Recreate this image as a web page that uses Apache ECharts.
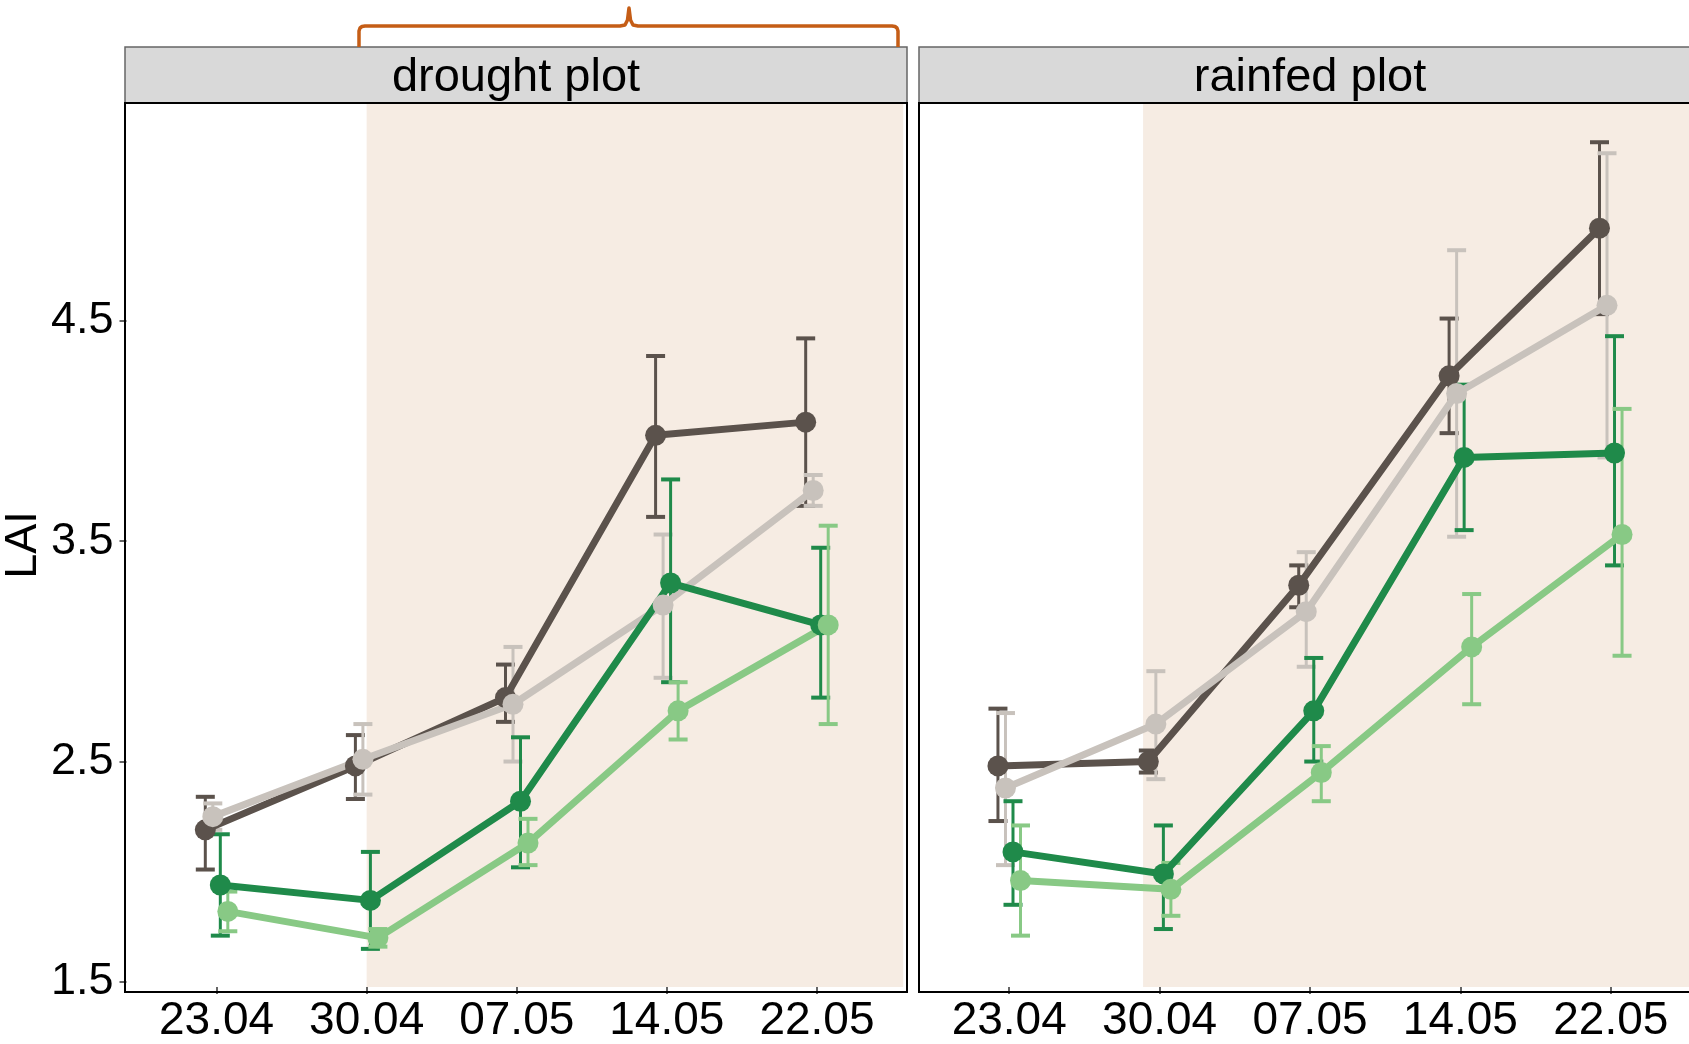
<!DOCTYPE html>
<html>
<head>
<meta charset="utf-8">
<title>LAI – drought vs rainfed plot</title>
<script src="https://cdn.jsdelivr.net/npm/echarts@6/dist/echarts.min.js"></script>
<style>
  html, body { margin: 0; padding: 0; background: #fff; }
  #chart { width: 1689px; height: 1044px; }
</style>
</head>
<body>
<div id="chart"></div>
<script>
// Sampling dates (discrete x positions 1..5)
const dates = ['23.04', '30.04', '07.05', '14.05', '22.05'];
const yTicks = [1.5, 2.5, 3.5, 4.5];
const panelTitles = ['drought plot', 'rainfed plot'];

// Drought plot: means and error-bar limits per genotype
const droughtG1Mean = [2.19, 2.48, 2.79, 3.98, 4.04];
const droughtG1Low  = [2.01, 2.33, 2.68, 3.61, 3.66];
const droughtG1High = [2.34, 2.62, 2.94, 4.34, 4.42];

const droughtG2Mean = [2.25, 2.51, 2.76, 3.21, 3.73];
const droughtG2Low  = [2.19, 2.35, 2.50, 2.88, 3.66];
const droughtG2High = [2.31, 2.67, 3.02, 3.53, 3.80];

const droughtG3Mean = [1.94, 1.87, 2.32, 3.31, 3.12];
const droughtG3Low  = [1.71, 1.65, 2.02, 2.86, 2.79];
const droughtG3High = [2.17, 2.09, 2.61, 3.78, 3.47];

const droughtG4Mean = [1.82, 1.70, 2.13, 2.73, 3.12];
const droughtG4Low  = [1.73, 1.66, 2.03, 2.60, 2.67];
const droughtG4High = [1.91, 1.74, 2.24, 2.86, 3.57];

// Rainfed plot
const rainfedG1Mean = [2.48, 2.50, 3.30, 4.25, 4.92];
const rainfedG1Low  = [2.23, 2.45, 3.20, 3.99, 4.53];
const rainfedG1High = [2.74, 2.55, 3.39, 4.51, 5.31];

const rainfedG2Mean = [2.38, 2.67, 3.18, 4.17, 4.57];
const rainfedG2Low  = [2.03, 2.42, 2.93, 3.52, 3.88];
const rainfedG2High = [2.72, 2.91, 3.45, 4.82, 5.26];

const rainfedG3Mean = [2.09, 1.99, 2.73, 3.88, 3.90];
const rainfedG3Low  = [1.85, 1.74, 2.50, 3.55, 3.39];
const rainfedG3High = [2.32, 2.21, 2.97, 4.21, 4.43];

const rainfedG4Mean = [1.96, 1.92, 2.45, 3.02, 3.53];
const rainfedG4Low  = [1.71, 1.80, 2.32, 2.76, 2.98];
const rainfedG4High = [2.21, 2.04, 2.57, 3.26, 4.10];

// ---- styling / layout ----
const FONT = 'Liberation Sans, Arial, sans-serif';
const groups = [
  { name: 'G1', color: '#5b524c', dodge: -0.075 },
  { name: 'G2', color: '#c8c2bc', dodge: -0.025 },
  { name: 'G3', color: '#1f8a4a', dodge:  0.025 },
  { name: 'G4', color: '#88c985', dodge:  0.075 }
];
const panelData = [
  [[droughtG1Mean, droughtG1Low, droughtG1High],
   [droughtG2Mean, droughtG2Low, droughtG2High],
   [droughtG3Mean, droughtG3Low, droughtG3High],
   [droughtG4Mean, droughtG4Low, droughtG4High]],
  [[rainfedG1Mean, rainfedG1Low, rainfedG1High],
   [rainfedG2Mean, rainfedG2Low, rainfedG2High],
   [rainfedG3Mean, rainfedG3Low, rainfedG3High],
   [rainfedG4Mean, rainfedG4Low, rainfedG4High]]
];
// drying period shading (x range in axis units)
const shadeFrom = [2.0, 1.89];
const shadeTo = 5.575;

const PANEL_TOP = 103, PANEL_H = 889, PANEL_W = 782;
const panelLeft = [125, 919];
const STRIP_TOP = 47;
const CANVAS_W = 1689;
const X_MIN = 0.4, X_MAX = 5.6;
const Y_MIN = 1.477, Y_MAX = 5.488;

// The rainfed panel runs past the right edge of the canvas; its grid is cut at
// the edge and the x range shortened by the same proportion so the scale stays equal.
const unitPx = PANEL_W / (X_MAX - X_MIN);
const gridW = panelLeft.map(l => Math.min(PANEL_W, CANVAS_W - l));
const gridXMax = gridW.map(w => X_MIN + w / unitPx);

const grids = panelLeft.map((l, i) => ({
  left: l, top: PANEL_TOP, width: gridW[i], height: PANEL_H,
  show: true, backgroundColor: '#fff', borderWidth: 0
}));

const xAxes = panelLeft.map((l, i) => ({
  type: 'value', gridIndex: i, min: X_MIN, max: gridXMax[i],
  axisLine: { show: false },
  splitLine: { show: false },
  axisTick: { show: true, customValues: [1, 2, 3, 4, 5], length: 7, lineStyle: { color: '#333', width: 1.5 } },
  axisLabel: {
    customValues: [1, 2, 3, 4, 5], margin: 11,
    formatter: v => dates[Math.round(v) - 1],
    color: '#000', fontSize: 46, fontFamily: FONT
  }
}));

const yAxes = panelLeft.map((l, i) => ({
  type: 'value', gridIndex: i, min: Y_MIN, max: Y_MAX,
  name: i === 0 ? 'LAI' : '',
  nameLocation: 'middle', nameGap: 103, nameRotate: 90,
  nameTextStyle: { color: '#000', fontSize: 45, fontFamily: FONT, verticalAlign: 'middle', align: 'center' },
  axisLine: { show: false },
  splitLine: { show: false },
  axisTick: { show: i === 0, customValues: yTicks, length: 7, lineStyle: { color: '#333', width: 1.5 } },
  axisLabel: {
    show: i === 0, customValues: yTicks, margin: 13,
    formatter: v => v.toFixed(1),
    color: '#000', fontSize: 45, fontFamily: FONT
  }
}));

function errorBarRenderer(color) {
  return function (params, api) {
    const x = api.value(0);
    const top = api.coord([x, api.value(2)]);
    const bot = api.coord([x, api.value(1)]);
    const half = 9.5;
    const st = { stroke: color, lineWidth: 3 };
    const cap = { stroke: color, lineWidth: 4 };
    return {
      type: 'group',
      children: [
        { type: 'line', shape: { x1: top[0], y1: top[1], x2: bot[0], y2: bot[1] }, style: st },
        { type: 'line', shape: { x1: top[0] - half, y1: top[1], x2: top[0] + half, y2: top[1] }, style: cap },
        { type: 'line', shape: { x1: bot[0] - half, y1: bot[1], x2: bot[0] + half, y2: bot[1] }, style: cap }
      ]
    };
  };
}

const series = [];
panelData.forEach((panel, p) => {
  // shaded period behind everything
  series.push({
    type: 'line', xAxisIndex: p, yAxisIndex: p, data: [], z: 0, silent: true,
    markArea: {
      silent: true,
      itemStyle: { color: '#f6ece3' },
      data: [[{ xAxis: shadeFrom[p] }, { xAxis: Math.min(shadeTo, gridXMax[p]) }]]
    }
  });
  // error bars
  panel.forEach((vals, g) => {
    const grp = groups[g];
    series.push({
      type: 'custom', name: grp.name, xAxisIndex: p, yAxisIndex: p, z: 2,
      renderItem: errorBarRenderer(grp.color),
      encode: { x: 0, y: [1, 2] },
      data: vals[0].map((m, i) => [i + 1 + grp.dodge, vals[1][i], vals[2][i]])
    });
  });
  // lines with points
  panel.forEach((vals, g) => {
    const grp = groups[g];
    series.push({
      type: 'line', name: grp.name, xAxisIndex: p, yAxisIndex: p, z: 3,
      data: vals[0].map((m, i) => [i + 1 + grp.dodge, m]),
      symbol: 'circle', symbolSize: 21, showSymbol: true,
      lineStyle: { color: grp.color, width: 7 },
      itemStyle: { color: grp.color, borderWidth: 0 }
    });
  });
});

// facet strips, panel frames and the bracket above the drought strip
const graphics = [];
panelLeft.forEach((l, i) => {
  graphics.push({
    type: 'rect', z: 50,
    shape: { x: l, y: STRIP_TOP, width: PANEL_W, height: PANEL_TOP - STRIP_TOP },
    style: { fill: '#d9d9d9', stroke: '#666', lineWidth: 1.5 }
  });
  graphics.push({
    type: 'text', z: 51, x: l + PANEL_W / 2, y: 78,
    style: { text: panelTitles[i], fill: '#000', fontSize: 47, fontFamily: FONT, align: 'center', verticalAlign: 'middle' }
  });
  graphics.push({
    type: 'rect', z: 60,
    shape: { x: l, y: PANEL_TOP, width: PANEL_W, height: PANEL_H },
    style: { fill: 'none', stroke: '#000', lineWidth: 2 }
  });
});
graphics.push({
  type: 'polyline', z: 70,
  shape: {
    points: [[359, 47], [359, 31], [360, 28], [362, 26.5], [365, 26], [620, 26], [625, 25], [627.5, 20],
             [629, 8], [630.5, 20], [633, 25], [638, 26], [892, 26], [895, 26.5], [897, 28], [898, 31], [898, 47]]
  },
  style: { fill: 'none', stroke: '#c55d16', lineWidth: 3.5, lineJoin: 'round' }
});

const chart = echarts.init(document.getElementById('chart'), null, { renderer: 'canvas' });
chart.setOption({
  animation: false,
  backgroundColor: '#fff',
  grid: grids,
  xAxis: xAxes,
  yAxis: yAxes,
  series: series,
  graphic: graphics
});
</script>
</body>
</html>
